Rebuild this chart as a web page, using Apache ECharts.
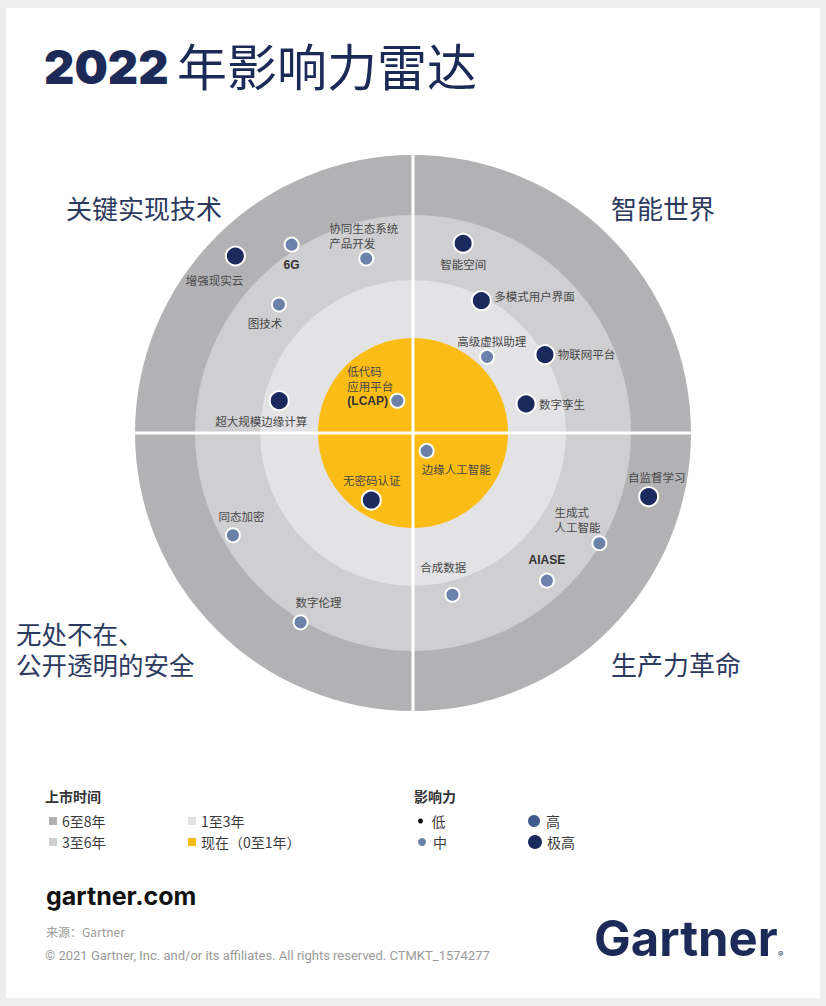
<!DOCTYPE html>
<html>
<head>
<meta charset="utf-8">
<title>2022年影响力雷达</title>
<script src="https://cdn.jsdelivr.net/npm/echarts@6/dist/echarts.min.js"></script>
<style>
  html, body { margin: 0; padding: 0; background: #eeeeee; }
  #main { width: 826px; height: 1006px; }
</style>
</head>
<body>
<div id="main"></div>
<script>
// 四个象限 (逆时针，从右上开始)
const quadrants = ['智能世界', '关键实现技术', '无处不在、公开透明的安全', '生产力革命']

// 上市时间 圆环 (外半径, 0-100)
const ringNames = ['6至8年', '3至6年', '1至3年', '现在（0至1年）']
const ringOuter = [100, 78.4, 55.0, 34.2]
const ringColors = ['#b2b2b4', '#cfcfd1', '#e3e3e5', '#fbbd15']

// 技术 (半径 0-100, 角度 逆时针从正右方)
const techNames = [
  '增强现实云', '6G', '协同生态系统\n产品开发', '图技术', '人工智能生成\n的复合应用',
  '超大规模边缘计算', '低代码\n应用平台\n(LCAP)',
  '智能空间', '多模式用户界面', '高级虚拟助理', '物联网平台', '数字孪生',
  '无密码认证', '同态加密', '数字伦理',
  '边缘人工智能', '自监督学习', '生成式\n人工智能', 'AIASE', '合成数据'
]
const techRadius = [
  90.2, 80.6, 65.0, 66.8, 100.8,
  49.5, 12.9,
  70.6, 53.6, 38.2, 55.2, 42.0,
  28.4, 74.5, 79.2,
  8.1, 87.8, 77.9, 71.7, 59.9
]
const techAngle = [
  135.1, 122.8, 105.0, 136.2, 164.6,
  166.4, 115.9,
  75.2, 62.7, 45.8, 30.7, 14.4,
  238.1, 209.6, 239.3,
  307.3, 344.9, 329.4, 312.2, 283.7
]
const techImpact = [
  '极高', '中', '中', '中', '中',
  '极高', '中',
  '极高', '极高', '中', '极高', '极高',
  '极高', '中', '中',
  '中', '极高', '中', '中', '中'
]

// 影响力
const impactLevels = ['低', '中', '高', '极高']
const impactColors = ['#111111', '#6b81aa', '#3e5b8c', '#1b2a5c']
const impactSizes = [6, 14, 16, 19]

// 标签位置 [position, dx, dy, align]
const labelPlace = {
  '增强现实云': ['bottom', -21, 2],
  '6G': ['bottom', 0, 1],
  '协同生态系统\n产品开发': ['top', -37, 4, 'left'],
  '图技术': ['bottom', -14, -1],
  '人工智能生成\n的复合应用': ['bottom', -29, 0, 'left'],
  '超大规模边缘计算': ['bottom', -18, -2],
  '低代码\n应用平台\n(LCAP)': ['left', -38, -15, 'left'],
  '智能空间': ['bottom', 0, -1.5],
  '多模式用户界面': ['right', -1.5, -4.5],
  '高级虚拟助理': ['top', 4.7, 3.5],
  '物联网平台': ['right', -1.8, -0.7],
  '数字孪生': ['right', -1.5, 0],
  '无密码认证': ['top', 0.4, 1.7],
  '同态加密': ['top', 8.7, 0.5],
  '数字伦理': ['top', 18, -0.5],
  '边缘人工智能': ['bottom', -5, -1.8, 'left'],
  '自监督学习': ['top', 8, 2],
  '生成式\n人工智能': ['top', -45, 3, 'left'],
  'AIASE': ['top', 0, -1.5],
  '合成数据': ['top', -9.3, -7.9]
}

var myChart = echarts.init(document.getElementById('main'), null, {renderer: 'svg'})

const cjk = '"Noto Sans CJK SC", "Noto Sans", sans-serif'
const navy = '#1b2a57'

function techData(level){
  let arr = []
  techNames.forEach((name, i) => {
    if (techImpact[i] !== level) return
    let p = labelPlace[name]
    arr.push({
      name: name,
      value: [techRadius[i], techAngle[i]],
      label: {
        position: p[0],
        offset: [p[1], p[2]],
        align: p[3] || undefined
      }
    })
  })
  return arr
}

let ringSeries = ringNames.map((name, i) => ({
  name: name,
  type: 'bar',
  coordinateSystem: 'polar',
  polarIndex: 0,
  data: quadrants.map(() => ringOuter[i]),
  barCategoryGap: '0%',
  barGap: '-100%',
  itemStyle: { color: ringColors[i] },
  silent: true,
  emphasis: { disabled: true },
  z: 2
}))

let dotSeries = impactLevels.map((level, i) => ({
  name: level,
  type: 'scatter',
  coordinateSystem: 'polar',
  polarIndex: 1,
  symbol: 'circle',
  symbolSize: impactSizes[i],
  data: techData(level),
  itemStyle: { color: impactColors[i], borderColor: '#fff', borderWidth: 2, opacity: 1 },
  label: {
    show: true,
    distance: 4,
    fontFamily: cjk,
    fontSize: 11.5,
    lineHeight: 15,
    color: '#484848',
    formatter: p => p.name.replace(/\(?[A-Z0-9]+\)?/g, m => '{en|' + m + '}'),
    rich: {
      en: { fontFamily: '"Liberation Sans", Arial, sans-serif', fontWeight: 'bold', fontSize: 12, lineHeight: 15, color: '#333' }
    }
  },
  emphasis: { disabled: true },
  z: 20
}))

function legendBox(names, left, top, w, h, icon, gap){
  return {
    data: names,
    orient: 'vertical',
    left: left,
    top: top,
    itemWidth: w,
    itemHeight: h,
    itemGap: gap || 7,
    icon: icon,
    selectedMode: false,
    itemStyle: { borderWidth: 0 },
    textStyle: { fontFamily: cjk, fontSize: 14, color: '#3a3a3a' }
  }
}

function txt(text, x, y, size, opt){
  return {
    type: 'text',
    z: 50,
    style: Object.assign({
      text: text, x: x, y: y,
      fontFamily: cjk, fontSize: size,
      fill: '#2c3a60',
      verticalAlign: 'middle'
    }, opt || {})
  }
}

var option = {
  backgroundColor: '#eeeeee',
  animation: false,
  polar: [
    { center: [413, 433], radius: 278 },
    { center: [413, 433], radius: 278 }
  ],
  angleAxis: [
    {
      polarIndex: 0, type: 'category', data: quadrants,
      startAngle: 0, clockwise: false, boundaryGap: true,
      axisLine: { show: false }, axisTick: { show: false }, axisLabel: { show: false },
      splitLine: { show: true, interval: 0, lineStyle: { color: '#ffffff', width: 3 } },
      z: 10
    },
    {
      polarIndex: 1, type: 'value', min: 0, max: 360,
      startAngle: 0, clockwise: false, show: false,
      splitLine: { show: false }
    }
  ],
  radiusAxis: [
    { polarIndex: 0, type: 'value', min: 0, max: 100, show: false, splitLine: { show: false } },
    { polarIndex: 1, type: 'value', min: 0, max: 100, show: false, splitLine: { show: false } }
  ],
  legend: [
    legendBox(['6至8年', '3至6年'], 44, 809, 8, 8, 'rect'),
    legendBox(['1至3年', '现在（0至1年）'], 183, 809, 8, 8, 'rect'),
    legendBox(['低'], 413, 809, 12, 5, 'circle'),
    legendBox(['中'], 413, 830, 12, 8, 'circle'),
    legendBox(['高'], 523, 809, 14, 12, 'circle'),
    legendBox(['极高'], 523, 830, 14, 14, 'circle')
  ],
  graphic: [
    { type: 'rect', z: -10, shape: { x: 6, y: 8, width: 814, height: 990 }, style: { fill: '#ffffff' } },
    // 标题
    txt('2022', 44, 66, 47, { fontFamily: 'Inter, Roboto, sans-serif', fontWeight: 900, fill: navy }),
    txt('年影响力雷达', 177, 64, 50, { fill: navy }),
    // 象限名称
    txt('关键实现技术', 66, 207, 26),
    txt('智能世界', 611, 207, 26),
    txt('无处不在、\n公开透明的安全', 16, 648, 25.5, { lineHeight: 31 }),
    txt('生产力革命', 611, 663, 26),
    // 图例标题
    txt('上市时间', 45, 796, 14, { fontWeight: 'bold', fill: '#333' }),
    txt('影响力', 414, 796, 14, { fontWeight: 'bold', fill: '#333' }),
    // 页脚
    txt('gartner.com', 46, 896, 25, { fontFamily: 'Inter, Roboto, sans-serif', fontWeight: 'bold', fill: '#111' }),
    txt('来源：Gartner', 46, 931, 12, { fill: '#9a9a9a' }),
    txt('© 2021 Gartner, Inc. and/or its affiliates. All rights reserved. CTMKT_1574277', 45, 955, 13,
      { fontFamily: 'Roboto, sans-serif', fill: '#9a9a9a' }),
    txt('Gartner', 594, 938, 49, { fontFamily: 'Inter, Roboto, sans-serif', fontWeight: 'bold', fill: navy }),
    txt('®', 778, 954, 8, { fontFamily: 'Inter, Roboto, sans-serif', fill: navy })
  ],
  series: ringSeries.concat(dotSeries)
}

myChart.setOption(option)
</script>
</body>
</html>
